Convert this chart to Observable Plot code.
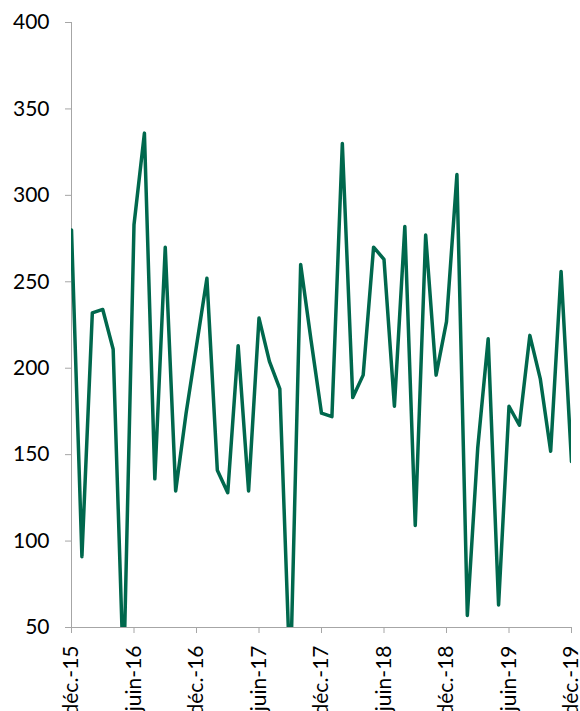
<!DOCTYPE html>
<html>
<head>
<meta charset="utf-8">
<script src="https://cdn.jsdelivr.net/npm/d3@7"></script>
<script src="https://cdn.jsdelivr.net/npm/@observablehq/plot@0.6"></script>
<style>
  html, body { margin: 0; padding: 0; background: #fff; }
  #chart svg { display: block; }
</style>
</head>
<body>
<div id="chart"></div>
<script>
// Monthly values, déc.-15 … déc.-19 (49 months)
const values = [280, 91, 232, 234, 211, 20, 283, 336, 136, 270, 129, 174, 213,
                252, 141, 128, 213, 129, 229, 204, 188, 18, 260, 216, 174, 172,
                330, 183, 196, 270, 263, 178, 282, 109, 277, 196, 227, 312, 57,
                154, 217, 63, 178, 167, 219, 194, 152, 256, 146];
const xTickIndex = [0, 6, 12, 18, 24, 30, 36, 42, 48];
const xTickLabels = ["déc.-15", "juin-16", "déc.-16", "juin-17", "déc.-17",
                     "juin-18", "déc.-18", "juin-19", "déc.-19"];
const yTicks = [50, 100, 150, 200, 250, 300, 350, 400];

const data = values.map((v, i) => ({i, v}));
const grey = "#a6a6a6";

const chart = Plot.plot({
  width: 580,
  height: 711,
  marginLeft: 71,
  marginRight: 9,
  marginTop: 22,
  marginBottom: 84,
  style: {fontFamily: "Lato", fontSize: "21px", background: "#fff", color: "#000"},
  x: {domain: [0, 48], axis: null},
  y: {domain: [50, 400], axis: null},
  marks: [
    Plot.ruleX([0], {stroke: grey, strokeWidth: 1}),
    Plot.ruleY([50], {stroke: grey, strokeWidth: 1}),
    Plot.axisY({ticks: yTicks, tickSize: 6, tickPadding: 16, stroke: grey, fill: "#000", label: null}),
    Plot.axisX({ticks: xTickIndex, tickSize: 6, tickPadding: 12, tickRotate: -90,
                tickFormat: d => xTickLabels[xTickIndex.indexOf(d)],
                stroke: grey, fill: "#000", label: null}),
    Plot.line(data, {x: "i", y: "v", stroke: "#00684d", strokeWidth: 3.5,
                     strokeLinejoin: "round", strokeLinecap: "round", clip: true})
  ]
});
document.getElementById("chart").appendChild(chart);
</script>
</body>
</html>
